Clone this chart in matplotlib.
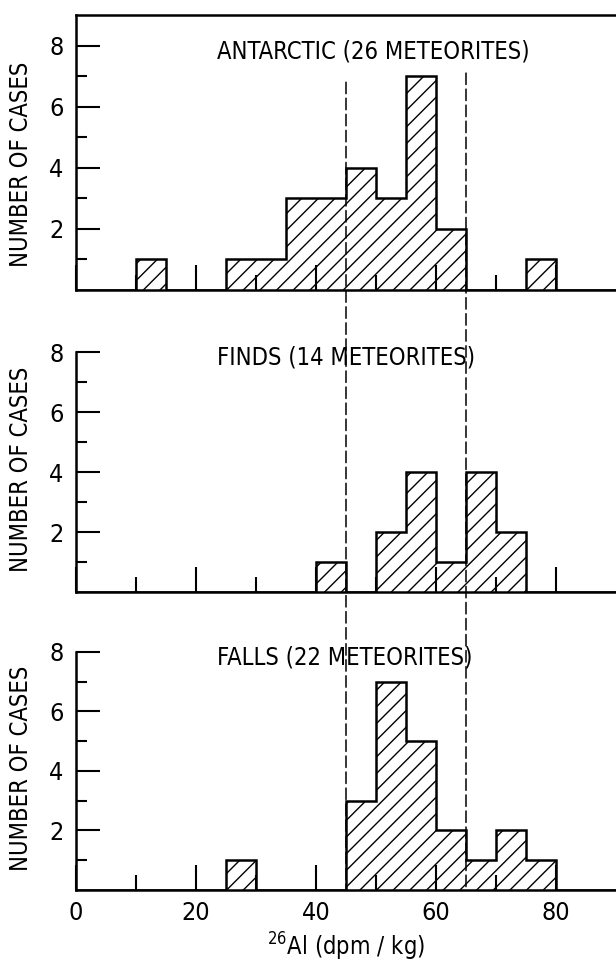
import numpy as np
import matplotlib.pyplot as plt
from matplotlib.patches import ConnectionPatch

plt.rcParams['font.family'] = ['DejaVu Sans']
plt.rcParams['font.stretch'] = 'condensed'
plt.rcParams['mathtext.default'] = 'regular'
plt.rcParams['hatch.linewidth'] = 1.0

# 26Al activity, 5 dpm/kg bins from 0 to 90
bin_edges = [0, 5, 10, 15, 20, 25, 30, 35, 40, 45, 50, 55, 60, 65, 70, 75, 80, 85, 90]
antarctic = [0, 0, 1, 0, 0, 1, 1, 3, 3, 4, 3, 7, 2, 0, 0, 1, 0, 0]
finds     = [0, 0, 0, 0, 0, 0, 0, 0, 1, 0, 2, 4, 1, 4, 2, 0, 0, 0]
falls     = [0, 0, 0, 0, 0, 1, 0, 0, 0, 3, 7, 5, 2, 1, 2, 1, 0, 0]
titles = ['ANTARCTIC (26 METEORITES)', 'FINDS (14 METEORITES)', 'FALLS (22 METEORITES)']

# range of the falls (dashed lines) and where they start in the top panel
range_lo, range_hi = 45, 65
dash_top = [6.8, 7.1]

fig = plt.figure(figsize=(6.16, 9.66), dpi=100)
W, H = 616., 966.
left, width = 76/W, 540/W
# (baseline px, height px)
panels = [(290, 275), (592, 270), (890, 268)]

axes = []
for i, (counts, title) in enumerate(zip([antarctic, finds, falls], titles)):
    base, h = panels[i]
    ax = fig.add_axes([left, (H-base)/H, width, h/H])
    ax.stairs(counts, bin_edges, fill=True, facecolor='white', edgecolor='black',
              hatch='//', linewidth=1.8, zorder=2)
    ax.set_xlim(0, 90)
    ax.set_ylim(0, 9)
    ax.spines['right'].set_visible(False)
    for s in ['left', 'bottom', 'top']:
        ax.spines[s].set_linewidth(1.8)
    if i > 0:
        ax.spines['top'].set_visible(False)
        ax.spines['left'].set_bounds(0, 8)
    ax.set_xticks([0, 20, 40, 60, 80])
    ax.set_xticks([10, 30, 50, 70], minor=True)
    ax.set_yticks([2, 4, 6, 8])
    ax.set_yticks([1, 3, 5, 7], minor=True)
    ax.tick_params(which='both', direction='in', width=1.5, labelsize=18,
                   top=False, right=False)
    ax.tick_params(axis='y', which='major', length=17, pad=9)
    ax.tick_params(axis='y', which='minor', length=8)
    ax.tick_params(axis='x', which='major', length=18, pad=8)
    ax.tick_params(axis='x', which='minor', length=11)
    if i < 2:
        ax.tick_params(axis='x', labelbottom=False)
    ax.set_axisbelow(False)
    ax.set_ylabel('NUMBER OF CASES', fontsize=17)
    ax.yaxis.set_label_coords(-0.08, 4.1/9)
    ax.text(23.5, 7.8, title, ha='left', va='center', fontsize=17)
    axes.append(ax)

axes[2].set_xlabel(r'$^{26}$Al (dpm / kg)', fontsize=17, labelpad=4)

for x, y0 in zip([range_lo, range_hi], dash_top):
    con = ConnectionPatch(xyA=(x, y0), coordsA=axes[0].transData,
                          xyB=(x, 0), coordsB=axes[2].transData,
                          color='black', linewidth=1.1, linestyle=(0, (7.5, 3)))
    fig.add_artist(con)

fig.savefig('out.png', dpi=100)
